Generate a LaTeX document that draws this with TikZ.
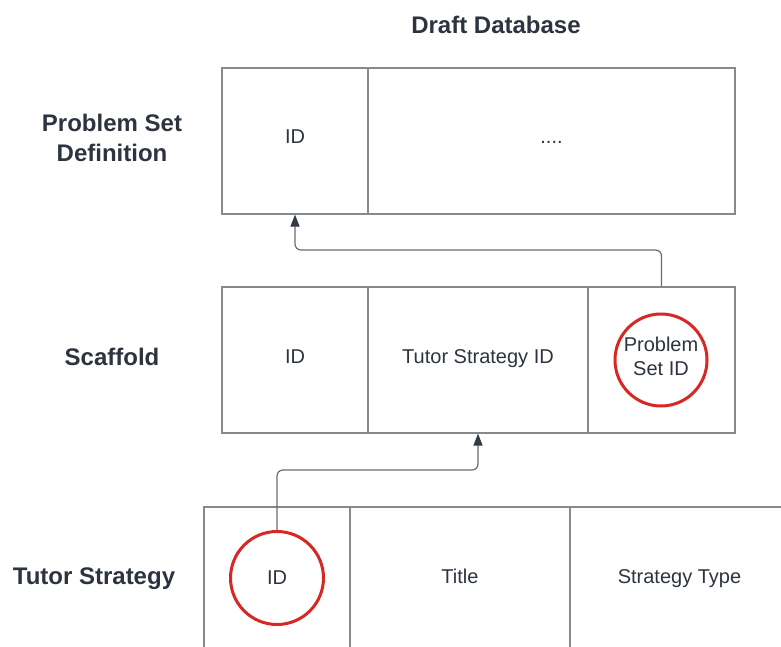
\documentclass[tikz,border=0pt]{standalone}
\usepackage{fontspec}
\setmainfont{Liberation Sans}
\usetikzlibrary{arrows.meta}
\definecolor{txt}{RGB}{45,52,64}
\definecolor{linegray}{RGB}{135,137,143}
\definecolor{connector}{RGB}{105,109,117}
\definecolor{tipdark}{RGB}{50,58,70}
\definecolor{hlred}{RGB}{214,40,36}
\tikzset{
  cell/.style={draw=linegray, line width=1.2pt, rectangle, inner sep=0pt,
    minimum height=146pt, text=txt, font=\fontsize{20}{24}\selectfont,
    text height=14pt, text depth=8pt},
  hl/.style={draw=hlred, line width=3pt, circle, inner sep=0pt, minimum size=92pt,
    text=txt, font=\fontsize{20}{24}\selectfont},
  celltext/.style={text=txt, font=\fontsize{20}{24}\selectfont, inner sep=0pt, align=center},
  rowlabel/.style={text=txt, font=\fontsize{24}{30}\selectfont\bfseries, align=center, inner sep=0pt},
  link/.style={draw=connector, line width=1.2pt, rounded corners=6pt,
    -{Triangle[length=12pt,width=9pt,color=tipdark]}}
}
\begin{document}
\begin{tikzpicture}[x=1pt,y=-1pt]
\useasboundingbox (0,0) rectangle (781,647);
\clip (0,0) rectangle (781,647);
\fill[white] (0,0) rectangle (781,647);

\node[rowlabel] (title) at (496,25) {Draft Database};

% Problem Set Definition
\node[rowlabel] (lps) at (112,138) {Problem Set\\Definition};
\node[cell, minimum width=146pt] (psid) at (295,141) {ID};
\node[cell, minimum width=367pt] (psrest) at (551.5,141) {....};

% Scaffold
\node[rowlabel] (lsc) at (112,357) {Scaffold};
\node[cell, minimum width=146pt] (scid) at (295,360) {ID};
\node[cell, minimum width=220pt] (scts) at (478,360) {Tutor Strategy ID};
\node[cell, minimum width=147pt] (scps) at (661.5,360) {};
\node[hl] (pscirc) at (661,360) {};
\node[celltext] (pstxt) at (661,356) {Problem\\Set ID};

% Tutor Strategy
\node[rowlabel] (lts) at (94,579) {Tutor Strategy};
\node[cell, minimum width=146pt] (tsid) at (277,580) {};
\node[cell, minimum width=220pt] (tstitle) at (460,580) {Title};
\node[cell, minimum width=240pt] (tstype) at (690,580) {};
\node[cell, draw=none, minimum height=0pt] (tstypetxt) at (679.5,580) {Strategy Type};
\node[hl, minimum size=93pt] (tscirc) at (277,578) {ID};

% connectors
\draw[link] (scps.north) -- (scps.north |- 0,250) -| (psid.south);
\draw[link] (tscirc.north) -- (tscirc.north |- 0,470) -| (scts.south);
\end{tikzpicture}
\end{document}
